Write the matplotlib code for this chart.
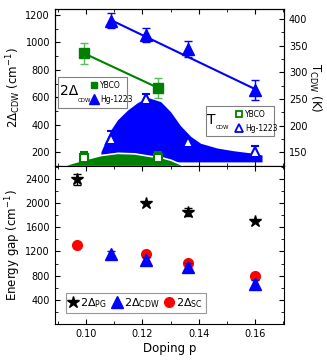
import numpy as np
import matplotlib
matplotlib.use('Agg')
import matplotlib.pyplot as plt
from matplotlib.patches import Rectangle
from matplotlib.lines import Line2D

plt.rcParams['font.family'] = ['DejaVu Sans']
plt.rcParams['mathtext.default'] = 'regular'

# top panel: 2Delta_CDW (left axis, cm-1)
ybco_p = [0.0994, 0.1257]
ybco_gap = [920, 668]
ybco_gap_err = [75, 75]
hg_p = [0.109, 0.1212, 0.1363, 0.160]
hg_gap = [1160, 1055, 951, 655]
hg_gap_err = [55, 50, 60, 72]
hg_fit_p = [0.109, 0.160]
hg_fit_gap = [1162, 660]

# top panel: T_CDW (right axis, K)
ybco_tcdw = [140, 139]
ybco_tcdw_err = [11, 11]
hg_tcdw = [174, 249, 170, 151]
hg_tcdw_err = [15, 10, 0, 11]

# shaded CDW domes (K)
hg_dome_p = [0.1053, 0.1071, 0.1088, 0.1112, 0.1147, 0.1182, 0.1218, 0.1265,
             0.1300, 0.1335, 0.1371, 0.1406, 0.1465, 0.1522, 0.1582, 0.1624]
hg_dome_t = [151, 173, 192, 211, 229, 243, 253, 245, 226, 200, 180, 167, 158, 153, 149, 145]
hg_dome_low = 132
ybco_dome_p = [0.0912, 0.0947, 0.0994, 0.1053, 0.1112, 0.1171, 0.1229, 0.1265, 0.1300, 0.1335, 0.1346]
ybco_dome_t = [124, 130, 137, 145, 149, 148, 143, 141, 136, 128, 124]

# bottom panel: energy gaps (cm-1)
pg_p = [0.0968, 0.1212, 0.1363, 0.160]
pg_gap = [2395, 2000, 1850, 1706]
pg_gap_err = [95, 0, 65, 0]
sc_p = [0.0968, 0.1212, 0.1363, 0.160]
sc_gap = [1300, 1155, 1005, 802]

green = '#008000'
blue = '#0000ff'

fig = plt.figure(figsize=(3.27, 3.6), dpi=100)
ax = fig.add_axes([0.168, 0.5389, 0.7005, 0.4361])
ax2 = ax.twinx()
bx = fig.add_axes([0.168, 0.1, 0.7005, 0.4389], sharex=ax)

# --- top panel ---
ax.plot(ybco_p, ybco_gap, color=green, lw=1.5)
ax.errorbar(ybco_p, ybco_gap, yerr=ybco_gap_err, fmt='s', color=green, ecolor='#5cb85c',
            ms=7, capsize=3, elinewidth=1)
ax.plot(hg_fit_p, hg_fit_gap, color=blue, lw=1.5)
ax.errorbar(hg_p, hg_gap, yerr=hg_gap_err, fmt='^', color=blue, ms=9, capsize=3, elinewidth=1)

ax2.fill_between(hg_dome_p, hg_dome_low, hg_dome_t, color=blue, lw=0)
ax2.fill_between(ybco_dome_p, 124, ybco_dome_t, facecolor=green, edgecolor='white', lw=1.2)
ax2.errorbar(ybco_p, ybco_tcdw, yerr=ybco_tcdw_err, fmt='s', mfc='white', mec=green, mew=1.5,
             ecolor=green, ms=6, capsize=3, elinewidth=1)
ax2.errorbar(hg_p, hg_tcdw, yerr=hg_tcdw_err, fmt='^', mfc='white', mec=blue, mew=1.5,
             ecolor=blue, ms=7, capsize=3, elinewidth=1)

ax.set_xlim(0.089, 0.1702)
ax.set_ylim(103, 1244)
ax2.set_ylim(124.3, 418.7)
ax.set_yticks(np.arange(200, 1201, 200))
ax.set_yticks(np.arange(100, 1201, 100), minor=True)
ax2.set_yticks(np.arange(150, 401, 50))
ax2.set_yticks(np.arange(125, 401, 25), minor=True)
ax.set_xticks([0.10, 0.12, 0.14, 0.16])
ax.set_xticks(np.arange(0.09, 0.171, 0.01), minor=True)
ax.tick_params(axis='x', which='both', top=True, labelbottom=False)
for a in (ax, ax2):
    a.tick_params(which='both', direction='in', labelsize=7)
    a.tick_params(which='major', length=3.5)
    a.tick_params(which='minor', length=2)
ax.set_ylabel(r'2$\Delta_{CDW}$ (cm$^{-1}$)', fontsize=8.5, labelpad=2)
ax2.set_ylabel(r'T$_{CDW}$ (K)', fontsize=8.5, rotation=270, labelpad=11)

# legend 1: 2Delta_CDW
ax2.add_patch(Rectangle((0.0144, 0.3675), 0.2986, 0.2015, transform=ax2.transAxes,
                        facecolor='white', edgecolor='#808080', lw=0.8, zorder=5))
ax2.text(0.022, 0.475, '2Δ', transform=ax2.transAxes, fontsize=10, va='center', zorder=6)
ax2.text(0.098, 0.405, 'CDW', transform=ax2.transAxes, fontsize=4, va='baseline', zorder=6)
h1 = [Line2D([], [], ls='', marker='s', color=green, ms=5),
      Line2D([], [], ls='', marker='^', color=blue, ms=7)]
leg1 = ax2.legend(h1, ['YBCO', 'Hg-1223'], loc='upper left', bbox_to_anchor=(0.13, 0.575),
                  frameon=False, fontsize=5.5, handlelength=1.0, handletextpad=0.3,
                  labelspacing=0.6, borderpad=0.2)
leg1.set_zorder(7)
ax2.add_artist(leg1)

# legend 2: T_CDW
ax2.add_patch(Rectangle((0.658, 0.191), 0.298, 0.191, transform=ax2.transAxes,
                        facecolor='white', edgecolor='#808080', lw=0.8, zorder=5))
ax2.text(0.666, 0.295, 'T', transform=ax2.transAxes, fontsize=10, va='center', zorder=6)
ax2.text(0.700, 0.235, 'CDW', transform=ax2.transAxes, fontsize=4, va='baseline', zorder=6)
h2 = [Line2D([], [], ls='', marker='s', mfc='white', mec=green, mew=1.3, ms=5),
      Line2D([], [], ls='', marker='^', mfc='white', mec=blue, mew=1.3, ms=6)]
leg2 = ax2.legend(h2, ['YBCO', 'Hg-1223'], loc='upper left', bbox_to_anchor=(0.765, 0.39),
                  frameon=False, fontsize=5.5, handlelength=1.0, handletextpad=0.3,
                  labelspacing=0.6, borderpad=0.2)
leg2.set_zorder(7)

# --- bottom panel ---
e_pg = bx.errorbar(pg_p, pg_gap, yerr=pg_gap_err, fmt='*', color='black', ms=9, capsize=3,
                   elinewidth=1)
e_cdw = bx.errorbar(hg_p, hg_gap, yerr=hg_gap_err, fmt='^', color=blue, ms=8, capsize=3,
                    elinewidth=1, zorder=3)
l_sc, = bx.plot(sc_p, sc_gap, 'o', color='red', ms=7, zorder=2)

bx.set_ylim(0, 2615)
bx.set_yticks(np.arange(400, 2401, 400))
bx.set_yticks(np.arange(200, 2601, 200), minor=True)
bx.tick_params(which='both', direction='in', top=True, right=True, labelsize=7)
bx.tick_params(which='major', length=3.5)
bx.tick_params(which='minor', length=2)
bx.set_xticklabels(['0.10', '0.12', '0.14', '0.16'])
bx.set_ylabel('Energy gap (cm$^{-1}$)', fontsize=8.5, labelpad=2)
bx.set_xlabel('Doping p', fontsize=8.5, labelpad=2)
h3 = [Line2D([], [], ls='', marker='*', color='black', ms=9),
      Line2D([], [], ls='', marker='^', color=blue, ms=8),
      Line2D([], [], ls='', marker='o', color='red', ms=7)]
leg3 = bx.legend(h3, [r'2$\Delta_{PG}$', r'2$\Delta_{CDW}$', r'2$\Delta_{SC}$'], loc='lower left',
                 bbox_to_anchor=(0.047, 0.068), ncol=3, fontsize=8, handlelength=0.8,
                 handletextpad=0.2, columnspacing=0.5, borderpad=0.3, fancybox=False,
                 edgecolor='#808080', borderaxespad=0)
leg3.get_frame().set_linewidth(0.8)

fig.savefig('out.png', dpi=100)
